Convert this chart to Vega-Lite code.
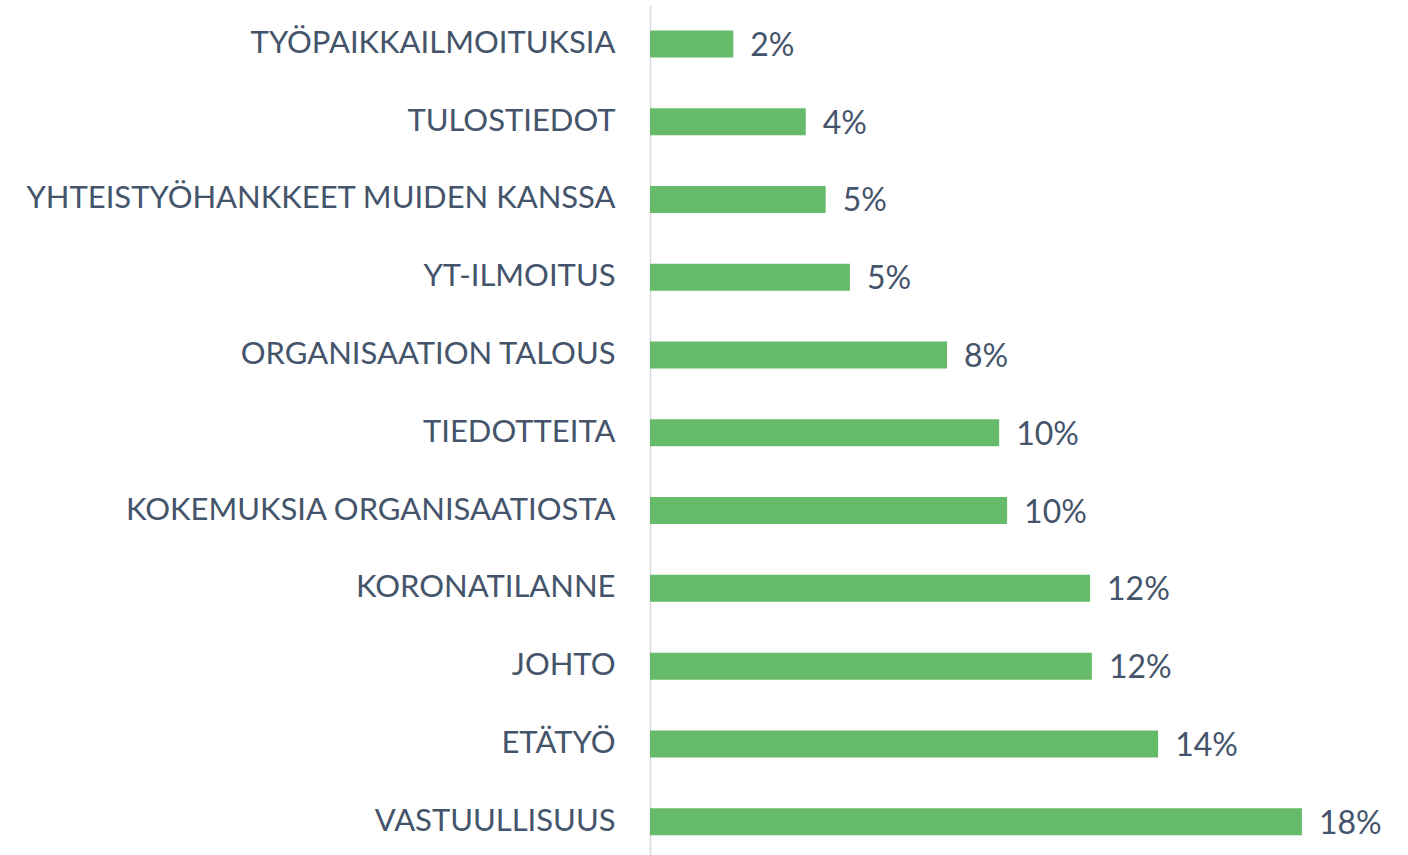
{
  "$schema": "https://vega.github.io/schema/vega-lite/v6.json",
  "autosize": {"type": "none"},
  "padding": {"left": 650, "top": 5, "right": 34, "bottom": 0},
  "width": 724.4,
  "height": 855.6,
  "background": "white",
  "config": {"view": {"stroke": null}},
  "data": {"values": [
    {"aihe": "TYÖPAIKKAILMOITUKSIA", "arvo": 2.3, "teksti": "2%"},
    {"aihe": "TULOSTIEDOT", "arvo": 4.3, "teksti": "4%"},
    {"aihe": "YHTEISTYÖHANKKEET MUIDEN KANSSA", "arvo": 4.85, "teksti": "5%"},
    {"aihe": "YT-ILMOITUS", "arvo": 5.52, "teksti": "5%"},
    {"aihe": "ORGANISAATION TALOUS", "arvo": 8.2, "teksti": "8%"},
    {"aihe": "TIEDOTTEITA", "arvo": 9.64, "teksti": "10%"},
    {"aihe": "KOKEMUKSIA ORGANISAATIOSTA", "arvo": 9.86, "teksti": "10%"},
    {"aihe": "KORONATILANNE", "arvo": 12.15, "teksti": "12%"},
    {"aihe": "JOHTO", "arvo": 12.2, "teksti": "12%"},
    {"aihe": "ETÄTYÖ", "arvo": 14.03, "teksti": "14%"},
    {"aihe": "VASTUULLISUUS", "arvo": 18.0, "teksti": "18%"}
  ]},
  "encoding": {
    "y": {
      "field": "aihe", "type": "nominal", "sort": null,
      "scale": {"paddingInner": 0.653, "paddingOuter": 0.3265},
      "axis": {
        "title": null, "ticks": false, "grid": false,
        "domainColor": "#d9d9d9", "domainWidth": 1.5,
        "labelFont": "Lato", "labelFontSize": 31, "labelColor": "#44546a",
        "labelPadding": 35, "labelLimit": 700
      }
    },
    "x": {
      "field": "arvo", "type": "quantitative",
      "scale": {"domain": [0, 20], "nice": false},
      "axis": null
    }
  },
  "layer": [
    {"mark": {"type": "bar", "color": "#66bb6a"}},
    {
      "mark": {"type": "text", "align": "left", "baseline": "middle", "dx": 17, "dy": 2,
               "font": "Lato", "fontSize": 32, "color": "#44546a"},
      "encoding": {"text": {"field": "teksti"}}
    }
  ]
}
